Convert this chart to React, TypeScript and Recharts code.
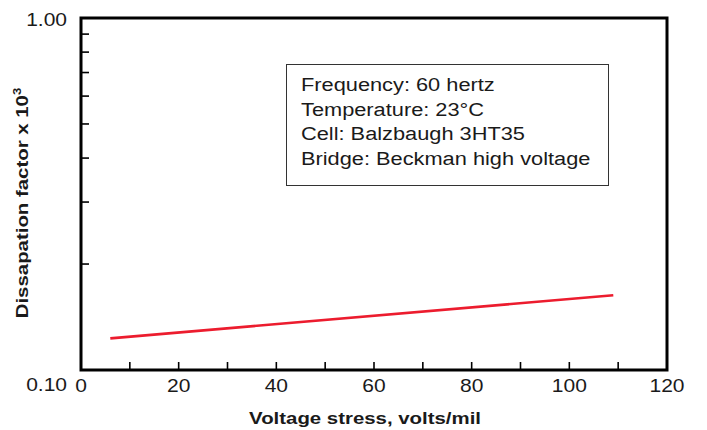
import React from 'react';
import { LineChart, Line, XAxis, YAxis, ReferenceArea } from 'recharts';

// values
const voltageStress = [6, 109];
const dissipation = [0.123, 0.163];

const xTicks = [0, 10, 20, 30, 40, 50, 60, 70, 80, 90, 100, 110, 120];
const xLabelled = [0, 20, 40, 60, 80, 100, 120];
const yTicks = [0.1, 0.2, 0.3, 0.4, 0.5, 0.6, 0.7, 0.8, 0.9, 1];
const yLabels: Record<number, string> = { 0.1: '0.10', 1: '1.00' };

const conditions = [
  'Frequency: 60 hertz',
  'Temperature: 23°C',
  'Cell: Balzbaugh 3HT35',
  'Bridge: Beckman high voltage',
];

const data = voltageStress.map((v, i) => ({ voltage: v, df: dissipation[i] }));

const FONT = '"Liberation Sans", Arial, Helvetica, sans-serif';
const INK = '#1a1a1a';

const XTick = ({ x, y, payload }: any) => {
  if (!xLabelled.includes(payload.value)) return null;
  return (
    <text
      transform={`translate(${x},${y + 22}) scale(1.2,1)`}
      textAnchor="middle"
      fontFamily={FONT}
      fontSize={17.5}
      fill={INK}
    >
      {payload.value}
    </text>
  );
};

const YTick = ({ x, y, payload }: any) => {
  const label = yLabels[payload.value];
  if (!label) return null;
  const dy = payload.value === 1 ? 8 : 21; // the bottom label hangs under the axis
  return (
    <text
      transform={`translate(${x},${y + dy}) scale(1.2,1)`}
      textAnchor="end"
      fontFamily={FONT}
      fontSize={17.5}
      fill={INK}
    >
      {label}
    </text>
  );
};

const XTitle = ({ viewBox }: any) => {
  const cx = viewBox.x + viewBox.width / 2 - 9;
  return (
    <text
      transform={`translate(${cx},${viewBox.y + 54}) scale(1.2,1)`}
      textAnchor="middle"
      fontFamily={FONT}
      fontSize={17}
      fontWeight="bold"
      fill={INK}
    >
      Voltage stress, volts/mil
    </text>
  );
};

const YTitle = ({ viewBox }: any) => {
  const cy = viewBox.y + viewBox.height / 2 + 9;
  return (
    <text
      transform={`translate(28,${cy}) rotate(-90) scale(1.2,1)`}
      textAnchor="middle"
      fontFamily={FONT}
      fontSize={17}
      fontWeight="bold"
      fill={INK}
    >
      Dissapation factor x 10<tspan dy={-7} fontSize={11}>3</tspan>
    </text>
  );
};

export default function App() {
  return (
    <div style={{ position: 'relative', width: 707, height: 430, background: '#fff' }}>
      <style>{'body{margin:0}'}</style>
      <LineChart
        width={707}
        height={430}
        data={data}
        margin={{ top: 18, right: 40, bottom: 0, left: 0 }}
      >
        <XAxis
          type="number"
          dataKey="voltage"
          domain={[0, 120]}
          ticks={xTicks}
          interval={0}
          height={60}
          axisLine={false}
          tickSize={-8}
          tickMargin={8}
          tickLine={{ stroke: '#000', strokeWidth: 1.6 }}
          tick={<XTick />}
          label={<XTitle />}
        />
        <YAxis
          type="number"
          scale="log"
          domain={[0.1, 1]}
          ticks={yTicks}
          interval={0}
          width={81}
          allowDataOverflow
          axisLine={false}
          tickSize={-8}
          tickMargin={22}
          tickLine={{ stroke: '#000', strokeWidth: 1.6 }}
          tick={<YTick />}
          label={<YTitle />}
        />
        <ReferenceArea
          x1={0}
          x2={120}
          y1={0.1}
          y2={1}
          fill="none"
          stroke="#000"
          strokeWidth={3}
          ifOverflow="visible"
        />
        <Line
          type="linear"
          dataKey="df"
          stroke="#ec1c2e"
          strokeWidth={2.6}
          dot={false}
          isAnimationActive={false}
        />
      </LineChart>
      <div
        style={{
          position: 'absolute',
          left: 286,
          top: 64,
          width: 323,
          height: 122,
          boxSizing: 'border-box',
          border: '1.5px solid #333',
          background: '#fff',
          paddingTop: 8,
          paddingLeft: 14,
        }}
      >
        <div
          style={{
            transform: 'scaleX(1.21)',
            transformOrigin: 'left',
            fontFamily: FONT,
            fontSize: 18,
            lineHeight: '24.7px',
            color: INK,
            whiteSpace: 'nowrap',
          }}
        >
          {conditions.map((c) => (
            <div key={c}>{c}</div>
          ))}
        </div>
      </div>
    </div>
  );
}
